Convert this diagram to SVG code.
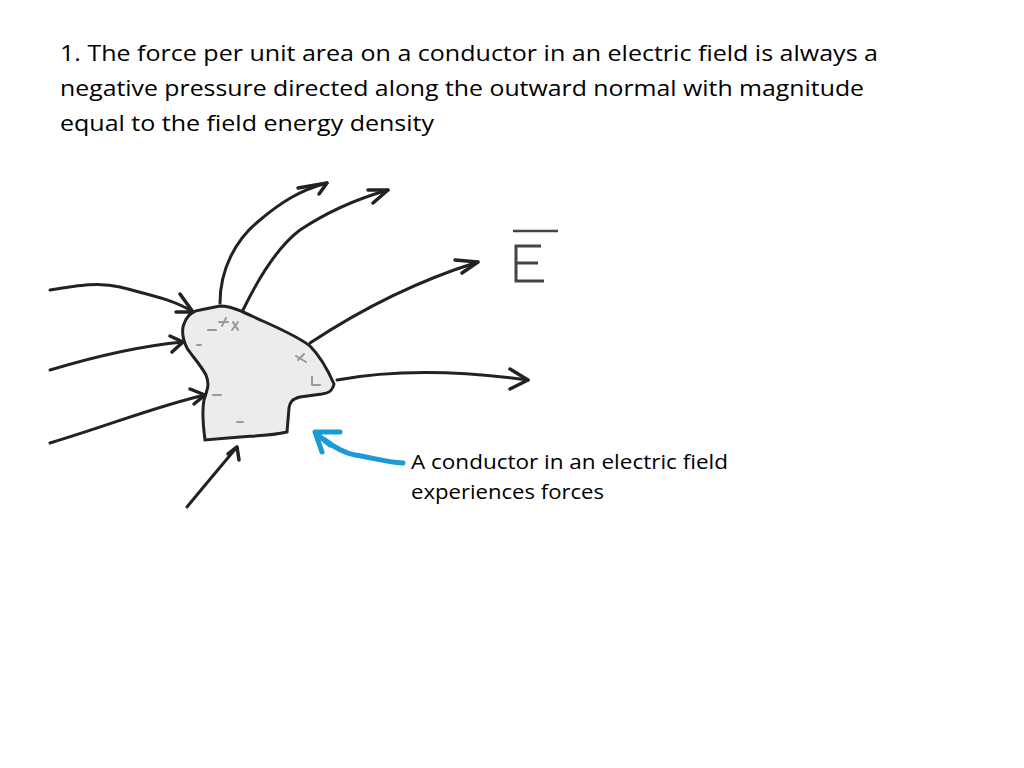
<svg xmlns="http://www.w3.org/2000/svg" width="1024" height="768" viewBox="0 0 1024 768">
<style>
.t{font-family:"Open Sans","Liberation Sans",sans-serif;fill:#000}
.fl{fill:none;stroke:#222;stroke-width:3;stroke-linecap:round}
.ah{fill:none;stroke:#222;stroke-width:3.5;stroke-linecap:round;stroke-linejoin:round}
.ch{fill:none;stroke:#999;stroke-width:2;stroke-linecap:round}
</style>
<rect width="1024" height="768" fill="#fff"/>
<g id="title" class="t" font-size="22">
<text x="60" y="61" textLength="818" lengthAdjust="spacingAndGlyphs">1.  The force per unit area on a conductor in an electric field is always a</text>
<text x="60" y="96" textLength="804" lengthAdjust="spacingAndGlyphs">negative pressure directed along the outward normal with magnitude</text>
<text x="60" y="131" textLength="374" lengthAdjust="spacingAndGlyphs">equal to the field energy density</text>
</g>
<g id="conductor">
<path d="M183,327 C186,316 192,311 200,310 L220,306 C230,306 236,309 243,312 C252,316 256,318 265,322 C285,331 300,338 310,346 C320,356 327,368 334,384 C332,392 328,393 322,394 L300,397 C292,399 290,402 289,408 L287,432 C270,436 250,436 240,437 L205,440 C203,425 202,410 204,400 C207,390 210,385 206,375 C200,364 192,356 187,348 C183,340 182,333 183,327 Z" fill="#ececec" stroke="#222" stroke-width="3"/>
<path class="ch" d="M208,330 h8 M222,326 l4,-8 M219,322 h9 M232,330 l6,-8 M233,322 l5,8 M197,345 h4 M213,395 h8 M237,422 h6 M298,360 l6,-6 M296,356 l10,6 M312,385 v-8 M312,385 h8"/>
</g>
<g id="connectors">
<path class="fl" d="M50,290 C80,285 100,282 120,287 C150,295 175,300 193,312"/>
<path class="ah" d="M180,294 L193,312 L176,312"/>
<path class="fl" d="M50,370 C100,355 150,345 183,342"/>
<path class="ah" d="M170,336 L183,342 L172,352"/>
<path class="fl" d="M50,443 C110,425 160,405 205,395"/>
<path class="ah" d="M190,389 L205,395 L194,404"/>
<path class="fl" d="M187,507 C205,485 222,465 237,447"/>
<path class="ah" d="M228,454 L237,447 L239,460"/>
<path class="fl" d="M220,303 C220,270 235,240 260,220 C280,203 300,190 327,183"/>
<path class="ah" d="M298,188 L327,183 L319,194"/>
<path class="fl" d="M243,310 C260,275 280,245 300,230 C330,210 360,198 388,190"/>
<path class="ah" d="M368,190 L388,190 L373,203"/>
<path class="fl" d="M310,343 C360,310 420,280 478,262"/>
<path class="ah" d="M455,260 L478,262 L462,273"/>
<path class="fl" d="M337,380 C380,372 440,368 528,380"/>
<path class="ah" d="M510,369 L528,380 L510,389"/>
<path d="M403,463 C385,462 370,457 355,455 C345,453 335,448 325,440" fill="none" stroke="#1a9ad6" stroke-width="5" stroke-linecap="round"/>
<path d="M315,432 L340,432 M315,432 L322,452 M318,435 L330,445" fill="none" stroke="#1a9ad6" stroke-width="5" stroke-linecap="round"/>
</g>
<g id="E">
<path d="M513,231 H558" stroke="#444" stroke-width="2.5"/>
<path d="M541,246 H516 V281 H544 M516,263 H538" fill="none" stroke="#444" stroke-width="3"/>
</g>
<g id="caption" class="t" font-size="20">
<text x="411" y="469" textLength="317" lengthAdjust="spacingAndGlyphs">A conductor in an electric field</text>
<text x="411" y="499" textLength="193" lengthAdjust="spacingAndGlyphs">experiences forces</text>
</g>
</svg>
